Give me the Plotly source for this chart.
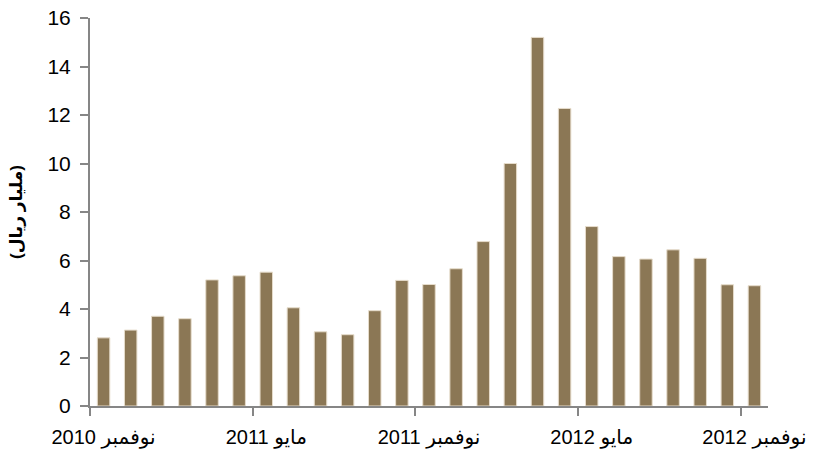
import plotly.graph_objects as go

months = ["نوفمبر 2010", "ديسمبر 2010", "يناير 2011", "فبراير 2011", "مارس 2011", "أبريل 2011",
          "مايو 2011", "يونيو 2011", "يوليو 2011", "أغسطس 2011", "سبتمبر 2011", "أكتوبر 2011",
          "نوفمبر 2011", "ديسمبر 2011", "يناير 2012", "فبراير 2012", "مارس 2012", "أبريل 2012",
          "مايو 2012", "يونيو 2012", "يوليو 2012", "أغسطس 2012", "سبتمبر 2012", "أكتوبر 2012",
          "نوفمبر 2012"]
values = [2.81, 3.13, 3.70, 3.60, 5.20, 5.37, 5.52, 4.05, 3.06, 2.94, 3.93, 5.18, 5.01,
          5.66, 6.78, 10.0, 15.2, 12.27, 7.40, 6.16, 6.06, 6.44, 6.09, 5.00, 4.96]
label_idx = [0, 6, 12, 18, 24]
y_title = "(مليار ريال)"

x = list(range(len(months)))
font = "Liberation Sans, Arial, DejaVu Sans, sans-serif"

fig = go.Figure(go.Bar(
    x=x, y=values,
    marker=dict(color="#8B7755", line=dict(color="#E6DCCB", width=1)),
    hovertext=months,
))

fig.update_layout(
    width=813, height=451,
    margin=dict(l=90, r=45, t=18, b=45),
    paper_bgcolor="white", plot_bgcolor="white",
    bargap=0.54,
    showlegend=False,
    font=dict(family=font, color="black"),
)
fig.update_xaxes(
    range=[-0.5, len(months) - 0.5],
    tickmode="array",
    tickvals=label_idx,
    ticktext=[months[i] for i in label_idx],
    ticks="",
    ticklabelstandoff=12,
    tickfont=dict(size=20, color="black"),
    showline=True, linecolor="#868686", linewidth=2,
    showgrid=False, zeroline=False,
    automargin=False,
    minor=dict(tickmode="array", tickvals=[i - 0.5 for i in label_idx],
               ticks="outside", ticklen=8, tickcolor="#868686", tickwidth=1.5,
               showgrid=False),
)
fig.update_yaxes(
    range=[0, 16], dtick=2,
    ticks="outside", ticklen=8, tickcolor="#868686", tickwidth=1.5,
    ticklabelstandoff=5,
    tickfont=dict(size=21, color="black"),
    showline=True, linecolor="#868686", linewidth=2,
    showgrid=False, zeroline=False,
    automargin=False,
    title=dict(text="<b>" + y_title + "</b>", font=dict(size=17, color="black"), standoff=20),
)

fig.write_html("out.html")
